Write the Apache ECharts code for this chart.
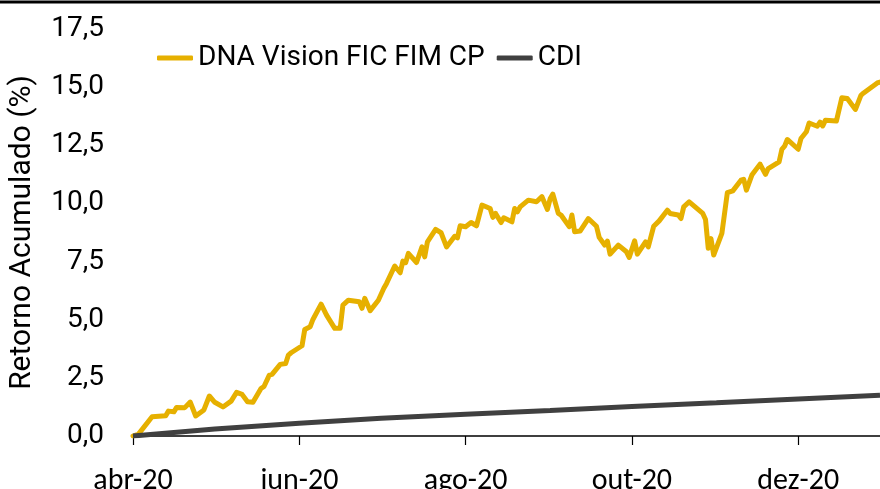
<!DOCTYPE html>
<html>
<head>
<meta charset="utf-8">
<script src="https://cdn.jsdelivr.net/npm/echarts@6/dist/echarts.min.js"></script>
<style>
html,body{margin:0;padding:0;background:#fff;}
#chart{width:880px;height:489px;}
</style>
</head>
<body>
<div id="chart"></div>
<script>
// ---- Data ----
const seriesNames = ['DNA Vision FIC FIM CP', 'CDI'];
const fundDates = [
 '2020-04-01','2020-04-03','2020-04-08','2020-04-13','2020-04-14','2020-04-16','2020-04-17','2020-04-20','2020-04-22','2020-04-24',
 '2020-04-27','2020-04-29','2020-05-01','2020-05-04','2020-05-07','2020-05-09','2020-05-11','2020-05-13','2020-05-15','2020-05-18',
 '2020-05-19','2020-05-21','2020-05-22','2020-05-25','2020-05-27','2020-05-28','2020-05-29','2020-06-02','2020-06-03','2020-06-05',
 '2020-06-06','2020-06-09','2020-06-11','2020-06-14','2020-06-16','2020-06-17','2020-06-19','2020-06-23','2020-06-24','2020-06-25',
 '2020-06-27','2020-06-30','2020-07-02','2020-07-03','2020-07-06','2020-07-08','2020-07-09','2020-07-10','2020-07-11','2020-07-14',
 '2020-07-16','2020-07-17','2020-07-18','2020-07-21','2020-07-23','2020-07-25','2020-07-28','2020-07-29','2020-07-30','2020-08-01',
 '2020-08-03','2020-08-05','2020-08-07','2020-08-10','2020-08-11','2020-08-12','2020-08-14','2020-08-15','2020-08-18','2020-08-19',
 '2020-08-20','2020-08-21','2020-08-24','2020-08-27','2020-08-29','2020-08-31','2020-09-01','2020-09-02','2020-09-04','2020-09-05',
 '2020-09-08','2020-09-09','2020-09-10','2020-09-12','2020-09-15','2020-09-18','2020-09-19','2020-09-21','2020-09-22','2020-09-23',
 '2020-09-26','2020-09-29','2020-09-30','2020-10-02','2020-10-03','2020-10-06','2020-10-07','2020-10-09','2020-10-11','2020-10-14',
 '2020-10-15','2020-10-18','2020-10-19','2020-10-20','2020-10-22','2020-10-27','2020-10-28','2020-10-29','2020-10-30','2020-10-31',
 '2020-11-03','2020-11-05','2020-11-07','2020-11-10','2020-11-11','2020-11-12','2020-11-14','2020-11-17','2020-11-19','2020-11-20',
 '2020-11-24','2020-11-25','2020-11-26','2020-11-27','2020-12-01','2020-12-02','2020-12-04','2020-12-05','2020-12-08','2020-12-09',
 '2020-12-10','2020-12-11','2020-12-15','2020-12-17','2020-12-19','2020-12-22','2020-12-24','2020-12-25','2020-12-30','2020-12-31'
];
const fundValues = [
 0.00,0.08,0.83,0.87,1.07,1.04,1.23,1.22,1.46,0.86,
 1.12,1.72,1.45,1.25,1.50,1.88,1.79,1.47,1.45,2.05,
 2.12,2.62,2.65,3.08,3.12,3.48,3.58,3.88,4.58,4.70,
 5.01,5.67,5.20,4.63,4.63,5.63,5.84,5.77,5.49,5.92,
 5.39,5.84,6.35,6.56,7.31,7.02,7.52,7.45,7.85,7.46,
 8.13,7.70,8.35,8.88,8.74,8.13,8.59,8.52,9.04,9.00,
 9.18,9.04,9.93,9.78,9.40,9.57,9.18,9.38,9.21,9.78,
 9.64,9.85,10.14,10.07,10.29,9.74,10.20,10.40,9.57,9.50,
 9.00,9.50,8.78,8.81,9.35,9.02,8.54,8.21,8.38,7.82,
 8.21,7.92,7.68,8.39,7.82,8.35,8.13,9.02,9.25,9.71,
 9.57,9.50,9.35,9.85,10.07,9.57,9.31,8.07,8.49,7.78,
 8.71,10.46,10.54,11.00,11.04,10.57,11.22,11.69,11.25,11.50,
 11.79,12.32,12.46,12.75,12.33,12.79,13.08,13.46,13.32,13.50,
 13.33,13.58,13.54,14.54,14.51,14.04,14.65,14.75,15.18,15.22
];
const cdiDates = ['2020-04-01','2020-05-01','2020-06-01','2020-07-01','2020-08-01','2020-09-01','2020-10-01','2020-11-01','2020-12-01','2020-12-31'];
const cdiValues = [0.00,0.30,0.55,0.76,0.93,1.10,1.27,1.43,1.59,1.75];
const tickDates = ['2020-04-01','2020-06-01','2020-08-01','2020-10-01','2020-12-01'];
const monthNames = ['jan','fev','mar','abr','mai','jun','jul','ago','set','out','nov','dez'];
const yTicks = [0, 2.5, 5, 7.5, 10, 12.5, 15, 17.5];
const xMin = '2020-04-01';
const xMax = '2020-12-31';

// ---- Chart ----
const toTs = s => { const p = s.split('-').map(Number); return Date.UTC(p[0], p[1] - 1, p[2]); };
const zip = (d, v) => d.map((x, i) => [toTs(x), v[i]]);
const tickTs = tickDates.map(toTs);

const chart = echarts.init(document.getElementById('chart'), null, {renderer: 'canvas'});
chart.setOption({
  animation: false,
  backgroundColor: '#ffffff',
  grid: {left: 133, right: 0, top: 29, bottom: 53, containLabel: false, outerBoundsMode: 'none'},
  legend: {
    left: 157, top: 43, padding: 0, itemGap: 12,
    itemWidth: 36, itemHeight: 5, icon: 'roundRect',
    textStyle: {fontFamily: 'Roboto', fontSize: 28, color: '#000', lineHeight: 30},
    data: seriesNames
  },
  xAxis: {
    type: 'value',
    min: toTs(xMin), max: toTs(xMax),
    axisLine: {show: true, onZero: false, lineStyle: {color: '#000', width: 1.5}},
    axisTick: {show: true, length: 9, lineStyle: {color: '#000', width: 1.2}, customValues: tickTs},
    axisLabel: {
      customValues: tickTs,
      fontFamily: 'Carlito, Lato', fontSize: 30, color: '#000', margin: 30, lineHeight: 30,
      formatter: v => { const d = new Date(v); return monthNames[d.getUTCMonth()] + '-' + String(d.getUTCFullYear()).slice(2); }
    },
    splitLine: {show: false}
  },
  yAxis: {
    type: 'value', min: yTicks[0], max: yTicks[yTicks.length - 1], interval: 2.5,
    name: 'Retorno Acumulado (%)', nameLocation: 'middle', nameRotate: 90, nameGap: 96,
    nameTextStyle: {fontFamily: 'Roboto', fontSize: 30, color: '#000'},
    axisLine: {show: false}, axisTick: {show: false}, splitLine: {show: false},
    axisLabel: {fontFamily: 'Roboto', fontSize: 28, color: '#000', margin: 29,
      formatter: v => v.toFixed(1).replace('.', ',')}
  },
  series: [
    {name: seriesNames[0], type: 'line', data: zip(fundDates, fundValues), showSymbol: false, symbol: 'none',
     lineStyle: {color: '#E6B000', width: 5, join: 'round', cap: 'round'}, itemStyle: {color: '#E6B000'}},
    {name: seriesNames[1], type: 'line', data: zip(cdiDates, cdiValues), showSymbol: false, symbol: 'none',
     lineStyle: {color: '#404040', width: 5}, itemStyle: {color: '#404040'}}
  ],
  graphic: [{type: 'line', shape: {x1: 0, y1: 2, x2: 880, y2: 2}, style: {stroke: '#000', lineWidth: 3}, z: 100}]
});
</script>
</body>
</html>
